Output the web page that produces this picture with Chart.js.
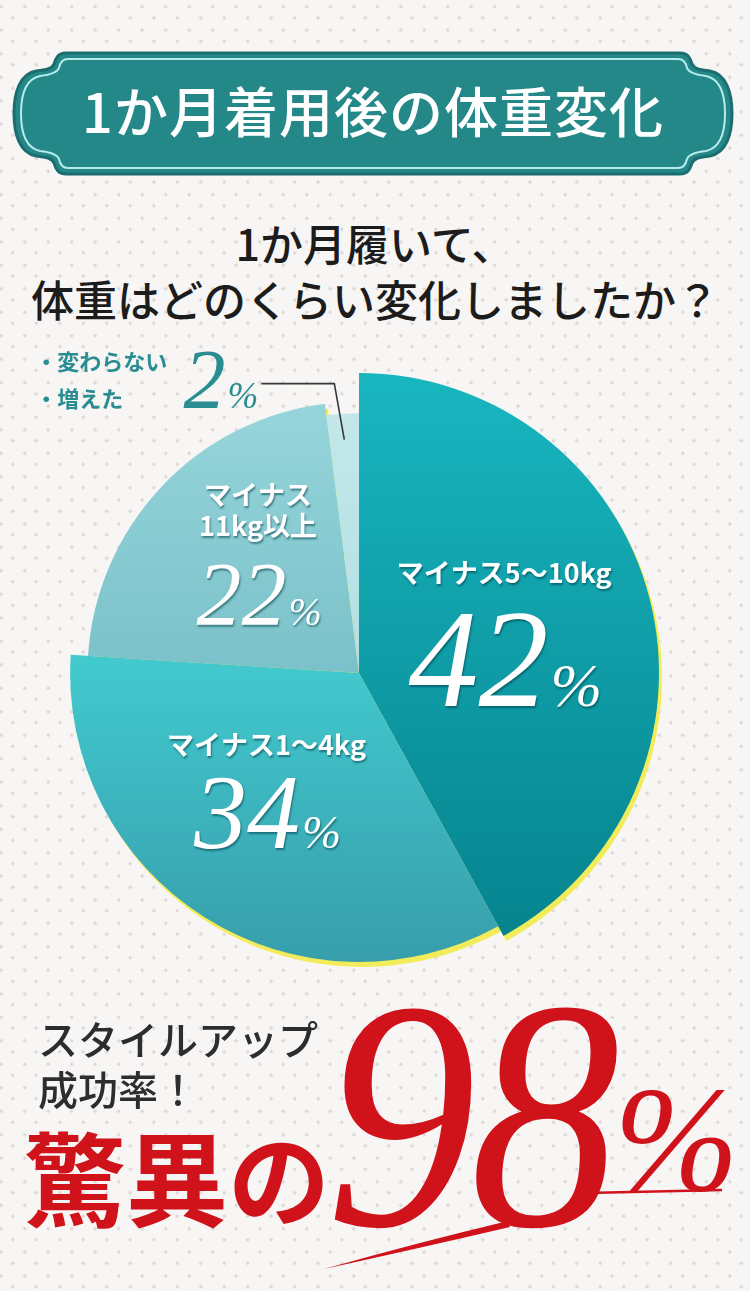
<!DOCTYPE html>
<html lang="ja">
<head>
<meta charset="utf-8">
<title>1か月着用後の体重変化</title>
<script src="https://cdn.jsdelivr.net/npm/chart.js@4.4.1/dist/chart.umd.min.js"></script>
<style>
html, body { margin: 0; padding: 0; }
body {
  width: 750px; height: 1291px; position: relative; overflow: hidden;
  background-color: #f7f6f5;
  background-image: radial-gradient(circle, #dcd5d5 1.3px, transparent 1.9px),
                    radial-gradient(circle, #dcd5d5 1.3px, transparent 1.9px);
  background-size: 23.5px 23.5px;
  background-position: 13px -5px, 1px 6px;
  font-family: "Noto Sans CJK JP", sans-serif;
}
.abs { position: absolute; line-height: 1; white-space: nowrap; }
#title { left: 0; width: 746px; top: 83px; text-align: center; color: #fff; font-size: 54px; font-weight: 500; letter-spacing: 1px; }
.question { left: 0; width: 750px; text-align: center; color: #1c1c1c; font-size: 43px; font-weight: 500; }
#pieChart { position: absolute; left: 0; top: 330px; }
.tagline { left: 38px; color: #2d2d2d; font-size: 40px; font-weight: 500; }
#amazing { left: 24px; top: 1124px; color: #d0121b; font-size: 102px; font-weight: 700; }
#rate { left: 326px; top: 974px; color: #d0121b; font-family: "Liberation Serif", serif; font-style: italic; font-size: 300px;
        letter-spacing: -6px; transform: scale(1, 1.09); transform-origin: 0 251px; }
#rateSign { left: 614px; top: 1064px; color: #d0121b; font-family: "Liberation Serif", serif; font-style: italic; font-size: 150px; }
svg { position: absolute; left: 0; top: 0; }
</style>
</head>
<body>

<svg width="750" height="190" viewBox="0 0 750 190">
  <path d="M66 53 H680 C688 53 690 58 692 64 C694 69 700 70 710 71 C726 74 732 92 732 113.5
           C732 135 726 153 710 156 C700 157 694 158 692 163 C690 169 688 174 680 174 H66
           C58 174 56 169 54 163 C52 158 46 157 36 156 C20 153 14 135 14 113.5
           C14 92 20 74 36 71 C46 70 52 69 54 64 C56 58 58 53 66 53 Z"
        fill="#248889" stroke="#1c6d6f" stroke-width="3"/>
  <path d="M68 59 H678 C684 59 686 63 687 68 C689 73 696 75 706 76 C720 79 725 95 725 113.5
           C725 132 720 148 706 151 C696 152 689 154 687 159 C686 164 684 168 678 168 H68
           C62 168 60 164 59 159 C57 154 50 152 40 151 C26 148 21 132 21 113.5
           C21 95 26 79 40 76 C50 75 57 73 59 68 C60 63 62 59 68 59 Z"
        fill="none" stroke="#b7ecec" stroke-width="2"/>
</svg>
<div id="title" class="abs">1か月着用後の体重変化</div>

<div class="abs question" style="top:221px">1か月履いて、</div>
<div class="abs question" style="top:277px">体重はどのくらい変化しましたか？</div>

<canvas id="pieChart" width="750" height="680"></canvas>

<div class="abs tagline" style="top:1018px">スタイルアップ</div>
<div class="abs tagline" style="top:1068px">成功率！</div>
<div id="amazing" class="abs">驚異の</div>
<div id="rate" class="abs">98</div>
<div id="rateSign" class="abs">%</div>
<svg width="750" height="1291" viewBox="0 0 750 1291" style="pointer-events:none">
  <path d="M586 1193 L722 1190" stroke="#d0121b" stroke-width="2.5" fill="none"/>
  <path d="M508 1221 Q420 1242 324 1269 Q420 1248 510 1227 Z" fill="#d0121b"/>
</svg>

<script>
// survey answers
const sliceNames = ['マイナス5〜10kg', 'マイナス1〜4kg', 'マイナス11kg以上', '変わらない・増えた'];
const sliceLines = [['マイナス5〜10kg'], ['マイナス1〜4kg'], ['マイナス', '11kg以上'], ['・変わらない', '・増えた']];
const sliceValues = [42, 34, 22, 2];

// look of each slice (gradient, radius step, text sizes)
const sliceStyle = [
  { from: '#19b6c0', to: '#05838d', y0: 0.0, y1: 0.95, r: 1.0, num: 140, lift: 0.95, dx: 0 },
  { from: '#42cacf', to: '#379caa', y0: 0.47, y1: 1.0, r: 0.963, num: 106, lift: 0.97, dx: -15 },
  { from: '#96d5db', to: '#7bc1c9', y0: 0.05, y1: 0.5, r: 0.905, num: 90, lift: 1.1, dx: -2 },
  { from: '#c3e8ea', to: '#b3e0e3', y0: 0.05, y1: 0.5, r: 0.866, num: 84, outside: true }
];

function sliceFill(c) {
  const st = sliceStyle[c.dataIndex];
  const area = c.chart.chartArea;
  if (!area) return st.from;
  const h = area.bottom - area.top;
  const g = c.chart.ctx.createLinearGradient(0, area.top + h * st.y0, 0, area.top + h * st.y1);
  g.addColorStop(0, st.from);
  g.addColorStop(1, st.to);
  return g;
}

const stepRadius = {
  id: 'stepRadius',
  afterUpdate(chart) {
    chart.getDatasetMeta(0).data.forEach((arc, i) => {
      arc.outerRadius = arc.outerRadius * sliceStyle[i].r;
    });
  }
};

const yellowEdge = {
  id: 'yellowEdge',
  beforeDatasetsDraw(chart) {
    const ctx = chart.ctx;
    ctx.save();
    ctx.fillStyle = '#f3ec5a';
    chart.getDatasetMeta(0).data.forEach(arc => {
      ctx.beginPath();
      ctx.moveTo(arc.x + 3, arc.y + 5);
      ctx.arc(arc.x + 3, arc.y + 5, arc.outerRadius, arc.startAngle, arc.endAngle);
      ctx.closePath();
      ctx.fill();
    });
    ctx.restore();
  }
};

function drawPercent(ctx, value, cx, baseline, size, color, alignRight) {
  const numFont = 'italic ' + size + 'px "Liberation Serif", serif';
  const pctFont = 'italic ' + Math.round(size * 0.44) + 'px "Liberation Serif", serif';
  ctx.font = numFont;
  const w1 = ctx.measureText(String(value)).width;
  ctx.font = pctFont;
  const w2 = ctx.measureText('%').width;
  const x = alignRight ? cx - w1 - w2 - 2 : cx - (w1 + w2) / 2;
  ctx.fillStyle = color;
  ctx.textAlign = 'left';
  ctx.textBaseline = 'alphabetic';
  ctx.font = numFont;
  ctx.fillText(String(value), x, baseline);
  ctx.font = pctFont;
  ctx.fillText('%', x + w1 + 2, baseline);
}

const sliceText = {
  id: 'sliceText',
  afterDatasetsDraw(chart) {
    const ctx = chart.ctx;
    const arcs = chart.getDatasetMeta(0).data;
    arcs.forEach((arc, i) => {
      const st = sliceStyle[i];
      const mid = (arc.startAngle + arc.endAngle) / 2;
      ctx.save();
      if (st.outside) {
        const end = { x: arc.x + Math.cos(mid) * arc.outerRadius * 0.9, y: arc.y + Math.sin(mid) * arc.outerRadius * 0.9 };
        const elbow = { x: end.x - 10, y: end.y - 56 };
        const tail = { x: elbow.x - 73, y: elbow.y };
        ctx.strokeStyle = '#383838';
        ctx.lineWidth = 1.6;
        ctx.beginPath();
        ctx.moveTo(tail.x, tail.y);
        ctx.lineTo(elbow.x, elbow.y);
        ctx.lineTo(end.x, end.y);
        ctx.stroke();
        drawPercent(ctx, sliceValues[i], tail.x - 3, elbow.y + 24, st.num, '#2a8d92', true);
        ctx.fillStyle = '#2a8d92';
        ctx.font = 'bold 22px "Noto Sans CJK JP"';
        ctx.textAlign = 'left';
        ctx.textBaseline = 'middle';
        ctx.fillText(sliceLines[i][0], tail.x - 226, elbow.y - 22);
        ctx.fillText(sliceLines[i][1], tail.x - 226, elbow.y + 15);
      } else {
        const r = arc.outerRadius * 0.5;
        const cx = arc.x + Math.cos(mid) * r + st.dx;
        const cy = arc.y + Math.sin(mid) * r;
        const baseline = cy + st.num * 0.5;
        ctx.shadowColor = 'rgba(0, 60, 70, 0.55)';
        ctx.shadowOffsetX = 1;
        ctx.shadowOffsetY = 2;
        ctx.shadowBlur = 2;
        drawPercent(ctx, sliceValues[i], cx, baseline, st.num, '#ffffff', false);
        ctx.fillStyle = '#ffffff';
        ctx.font = 'bold 27px "Noto Sans CJK JP"';
        ctx.textAlign = 'center';
        ctx.textBaseline = 'middle';
        const lines = sliceLines[i];
        let y = baseline - st.num * st.lift - (lines.length - 1) * 31;
        lines.forEach(t => { ctx.fillText(t, cx, y); y += 31; });
      }
      ctx.restore();
    });
  }
};

const pie = new Chart(document.getElementById('pieChart'), {
  type: 'pie',
  data: {
    labels: sliceNames,
    datasets: [{
      data: sliceValues,
      backgroundColor: sliceFill,
      borderWidth: 0,
      hoverOffset: 0
    }]
  },
  options: {
    responsive: false,
    animation: false,
    events: [],
    layout: { padding: { left: 59, right: 91, top: 43, bottom: 37 } },
    plugins: { legend: { display: false }, tooltip: { enabled: false } }
  },
  plugins: [stepRadius, yellowEdge, sliceText]
});
</script>
</body>
</html>
